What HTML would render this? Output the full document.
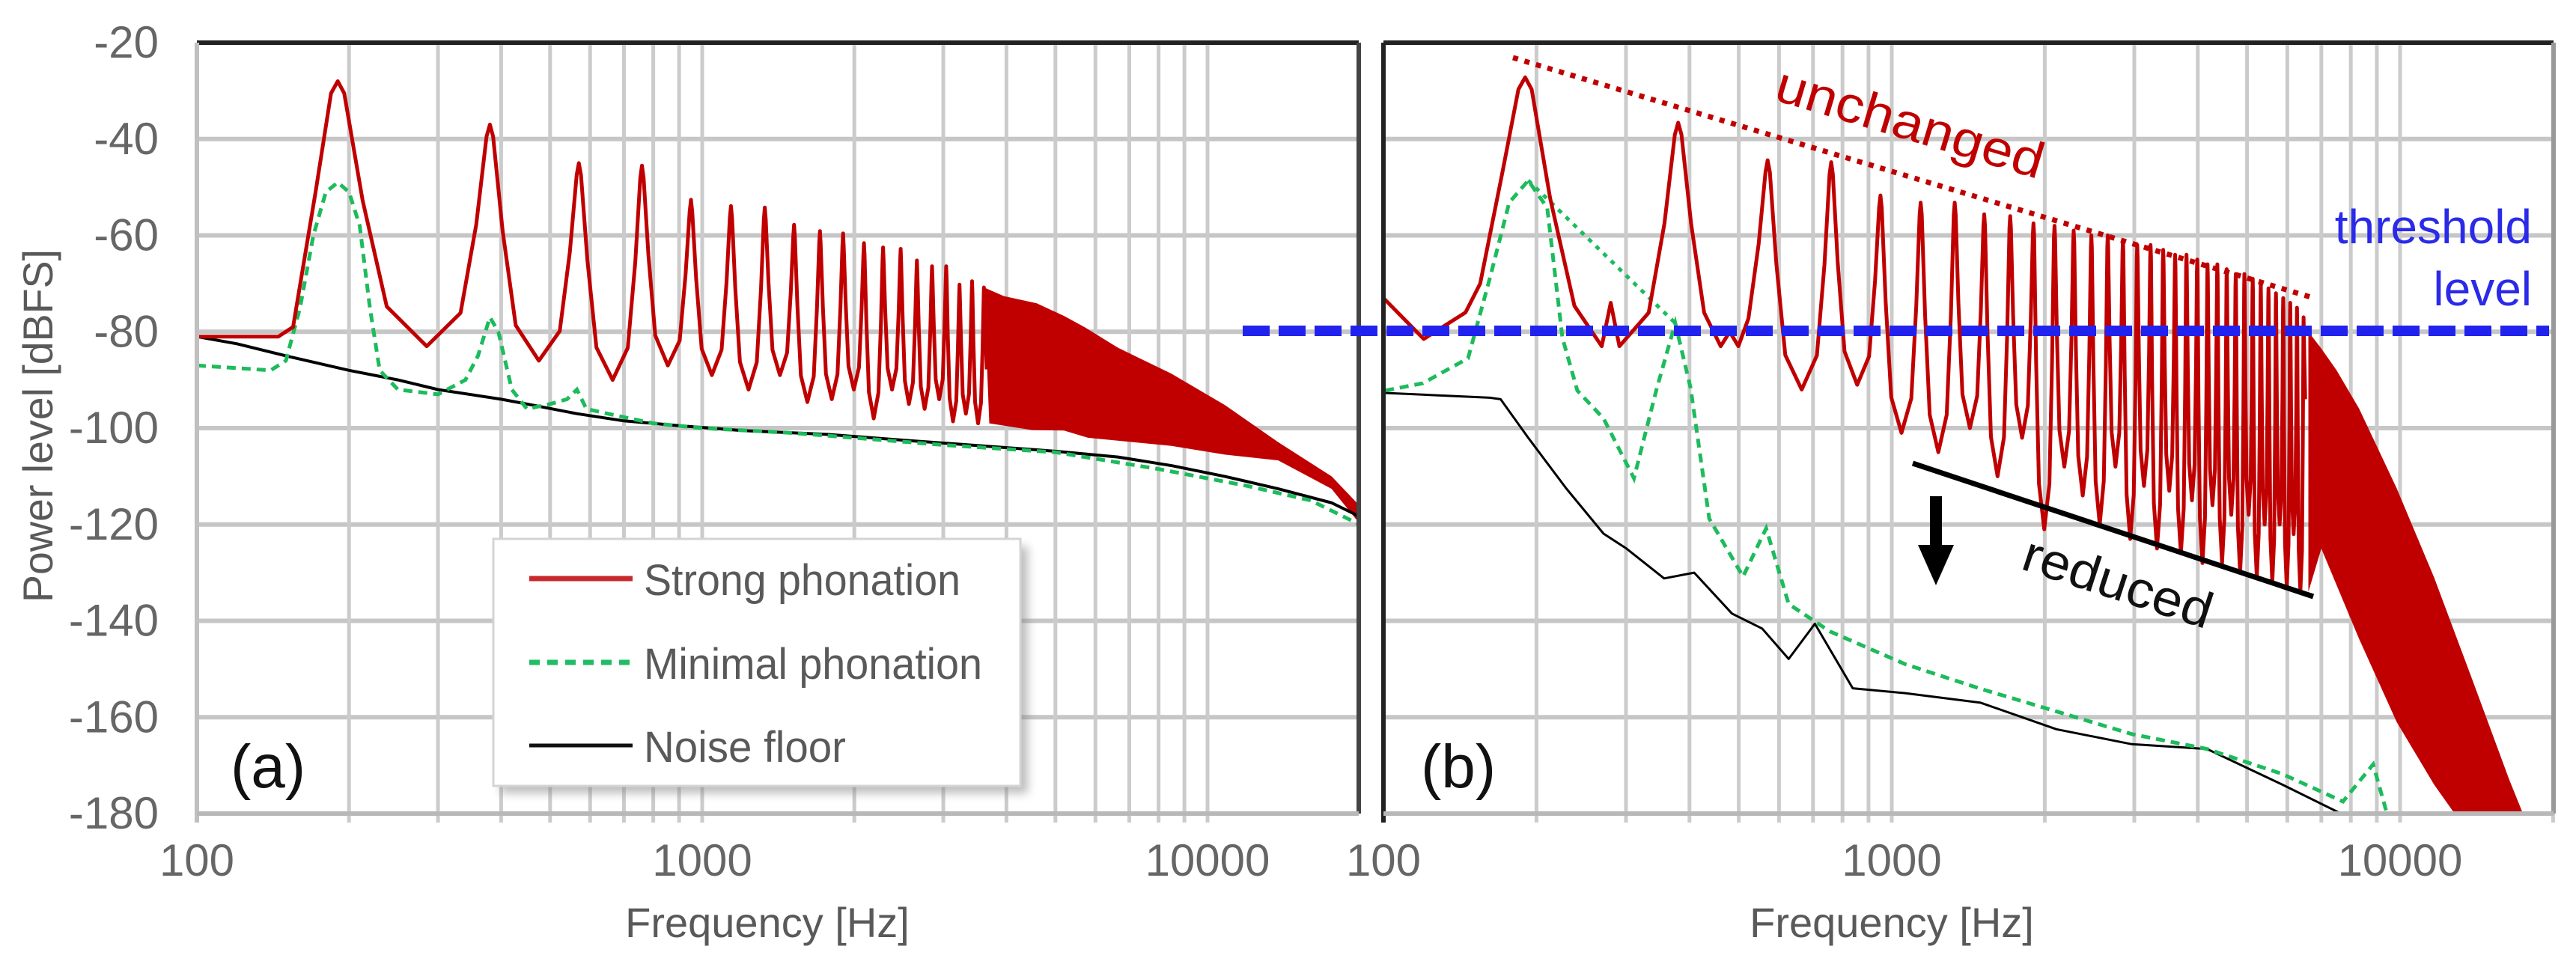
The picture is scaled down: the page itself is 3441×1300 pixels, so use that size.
<!DOCTYPE html>
<html><head><meta charset="utf-8"><style>
html,body{margin:0;padding:0;background:#fff;}
svg{display:block;font-family:"Liberation Sans",Arial,sans-serif;}
</style></head><body>
<svg id="chart" width="3441" height="1300" viewBox="0 0 3441 1300" xmlns="http://www.w3.org/2000/svg">
<defs>
<clipPath id="clipA"><rect x="263" y="57" width="1552" height="1030"/></clipPath>
<clipPath id="clipB"><rect x="1848" y="57" width="1563" height="1030"/></clipPath>
<filter id="shadow" x="-10%" y="-10%" width="130%" height="130%"><feGaussianBlur stdDeviation="6"/></filter>
</defs>
<g id="gridA"></g>
<g id="gridB"></g>
<g id="seriesA" clip-path="url(#clipA)"></g>
<g id="seriesB" clip-path="url(#clipB)"></g>
<g id="frames"></g>
<g id="labels"></g>

<text transform="translate(70,569) rotate(-90)" text-anchor="middle" font-size="56" fill="#595959" textLength="472" lengthAdjust="spacingAndGlyphs">Power level [dBFS]</text>
<text x="1025" y="1252" text-anchor="middle" font-size="56" fill="#595959">Frequency [Hz]</text>
<text x="2527" y="1252" text-anchor="middle" font-size="56" fill="#595959">Frequency [Hz]</text>

<line x1="1660" y1="442" x2="3405" y2="442" stroke="#2222ee" stroke-width="14" stroke-dasharray="36 12"/>
<text x="3382" y="325" text-anchor="end" font-size="64" fill="#2a2ae8">threshold</text>
<text x="3382" y="408" text-anchor="end" font-size="64" fill="#2a2ae8">level</text>

<line x1="2021" y1="77" x2="3090" y2="398" stroke="#c00000" stroke-width="7" stroke-dasharray="7 9"/>
<text transform="translate(2545,186) rotate(16.7)" text-anchor="middle" font-size="68" fill="#c00000" textLength="370" lengthAdjust="spacingAndGlyphs">unchanged</text>

<line x1="2555" y1="619" x2="3090" y2="797" stroke="#000" stroke-width="7"/>
<text transform="translate(2822,800) rotate(18)" text-anchor="middle" font-size="68" fill="#111" textLength="262" lengthAdjust="spacingAndGlyphs">reduced</text>
<g>
<rect x="2578" y="663" width="16" height="70" fill="#000"/>
<polygon points="2562,728 2610,728 2586,782" fill="#000"/>
</g>

<text x="308" y="1052" font-size="82" fill="#111">(a)</text>
<text x="1898" y="1052" font-size="82" fill="#111">(b)</text>

<g>
<rect x="669" y="730" width="704" height="330" fill="#888" opacity="0.55" filter="url(#shadow)"/>
<rect x="659" y="720" width="704" height="330" fill="#fff" stroke="#d4d4d4" stroke-width="3"/>
<g>
<line x1="707" y1="773" x2="845" y2="773" stroke="#c8282c" stroke-width="7"/>
<text x="860" y="795" font-size="58" fill="#595959" textLength="423" lengthAdjust="spacingAndGlyphs">Strong phonation</text>
</g>
<g>
<line x1="707" y1="885" x2="845" y2="885" stroke="#22bb66" stroke-width="7" stroke-dasharray="14 10"/>
<text x="860" y="907" font-size="58" fill="#595959" textLength="452" lengthAdjust="spacingAndGlyphs">Minimal phonation</text>
</g>
<g>
<line x1="707" y1="996" x2="845" y2="996" stroke="#111" stroke-width="5"/>
<text x="860" y="1018" font-size="58" fill="#595959" textLength="270" lengthAdjust="spacingAndGlyphs">Noise floor</text>
</g>
</g>
</svg>
<script>
// ---------------- data ----------------
const f0 = 190;
const yTicks = [-20,-40,-60,-80,-100,-120,-140,-160,-180];
const xTickLabels = [100,1000,10000];
const gridFreqs = [100,200,300,400,500,600,700,800,900,1000,2000,3000,4000,5000,6000,7000,8000,9000,10000,20000];

// Panel (a) strong phonation
const aLowFreq = [100,145,155];
const aLowDb = [-81,-81,-79];
const aPeaks = [-28,-37,-45,-45.5,-52.6,-53.9,-54.2,-57.8,-59.1,-59.6,-61.6,-62.5,-62.8,-65.2,-66.4,-66.4,-70.2,-69.5,-70.8];
const aTroughs = [-83,-86,-90,-87,-89,-92,-89,-94.6,-94,-92,-98,-92,-95,-96,-94,-98.6,-97,-99];
const aBandTopFreq = [3610,3954,4595,5197,5725,6646,8485,10820,13800,17600,19700,20000];
const aBandTopDb = [-70.8,-72.6,-74.1,-76.7,-79.1,-83.3,-88.7,-95.2,-102.9,-110,-115.4,-116];
const aBandBotFreq = [3700,4500,5200,5800,8485,10820,13800,17600,19700,20000];
const aBandBotDb = [-99,-100.4,-100.5,-102,-103.7,-105.5,-106.7,-112.6,-119,-119];
// Panel (a) minimal phonation
const aMinFreq = [100,140,150,160,170,180,190,200,210,220,230,250,300,340,360,380,395,420,450,500,540,565,590,650,800,1000,1500,2000,3000,5000,8000,12000,16000,20000];
const aMinDb = [-87,-88,-86,-75,-60,-51,-49,-51,-58,-75,-88,-92,-93,-90,-85,-77,-80,-92,-96,-95,-94,-92,-96,-97,-99,-100,-101,-102,-103.5,-105,-108.5,-112,-115,-120];
// Panel (a) noise floor
const aNoiseFreq = [100,120,150,200,250,300,400,450,565,700,900,1200,1770,2500,3500,5000,6650,8500,10800,13800,17600,19700,20000];
const aNoiseDb = [-81,-82.5,-85,-88,-90,-92,-94,-95,-97,-98.5,-99.5,-100.5,-101.3,-102.5,-103.6,-104.8,-106,-107.8,-110,-112.6,-115.5,-118,-119];

// Panel (b) strong phonation
const bLowFreq = [100,120,145,155];
const bLowDb = [-73,-81.5,-76,-70];
const bPeaks = [-27.2,-36.6,-44.4,-44.8,-51.7,-53.2,-53.2,-55.6,-56,-57.5,-58,-59,-60,-60,-61,-62,-62,-63,-64,-64,-65,-66,-66,-67,-68,-68,-69,-70,-71,-72,-73,-74,-75,-77];
const bTroughs = [-83,-83,-92,-91,-101,-105,-100,-110,-102,-121,-108,-114,-120,-108,-123,-112,-125,-113,-126,-115,-128,-116,-128,-118,-130,-118,-131,-120,-132,-120,-133,-122,-134];
const bBumpFreq = [280,480];
const bBumpDb = [-74,-80];
const bBandTopFreq = [6600,6990,7500,8300,9850,11670,13850,16400,17600];
const bBandTopDb = [-80,-83.4,-88,-95.9,-112.5,-131,-152,-173,-181];
const bBandBotFreq = [6600,7000,8300,9850,11670,13000];
const bBandBotDb = [-134,-125,-143.7,-161,-174,-181];
// Panel (b) minimal phonation
const bMinFreq = [100.7,119.5,146.7,162,176.8,192.7,210,225,240.7,271,311,345,375,402,437.5,510,566,627,756,1063,1496,2108,2967,4170,5870,7720,8850,9480];
const bMinDb = [-92.2,-90.7,-85.5,-68.8,-53.2,-48.6,-54.3,-81.3,-92.2,-98,-110.4,-91.7,-78.2,-91.7,-118.8,-130.8,-120.8,-136.5,-142.2,-149,-154.1,-158.8,-163.5,-166.6,-171.8,-177.5,-169.8,-181];
const bMinDiagFreq = [192.7,375];
const bMinDiagDb = [-48.6,-78.2];
// Panel (b) noise floor
const bNoiseFreq = [100.7,162,170,192.7,228.8,271,300.6,356.6,408.6,485,556,627,706,838,1063,1496,2108,2967,4170,5870,7997];
const bNoiseDb = [-92.7,-93.7,-94,-102,-112.5,-121.9,-125,-131.2,-130,-138.5,-141.6,-147.9,-140.6,-154,-155,-157,-162.5,-165.6,-166.6,-174,-181];

// ---------------- scales ----------------
const NS = 'http://www.w3.org/2000/svg';
const panelA = {x0:263, dec:675, right:1815};
const panelB = {x0:1848, dec:679, right:3411};
const yTop = 57, yBot = 1087;
function yScale(db){ return yTop + (-20 - db) / 160 * (yBot - yTop); }
function xScale(p, f){ return p.x0 + p.dec * Math.log10(f / 100); }

function mk(tag, attrs, parent){
  const el = document.createElementNS(NS, tag);
  for (const k in attrs) el.setAttribute(k, attrs[k]);
  parent.appendChild(el);
  return el;
}
function ptsStr(p, fr, db){
  return fr.map((f,i)=>xScale(p,f).toFixed(1)+','+yScale(db[i]).toFixed(1)).join(' ');
}
function harmonicPath(lowF, lowD, peaks, troughs, bumpF, bumpD){
  const F = lowF.slice(), D = lowD.slice();
  for (let i = 0; i < peaks.length; i++){
    const n = i + 1, P = peaks[i];
    const Tl = i === 0 ? lowD[lowD.length-1] : troughs[i-1];
    const Tr = i < troughs.length ? troughs[i] : P - 20;
    const wl = i === 0 ? 0.8 : 1;
    if (i > 0){ F.push((n-0.25)*f0); D.push(Tl + (P-Tl)*0.15); }
    F.push((n-0.12*wl)*f0); D.push(Tl + (P-Tl)*0.55);
    F.push((n-0.03)*f0); D.push(P-2.5);
    F.push(n*f0); D.push(P);
    F.push((n+0.03)*f0); D.push(P-2.5);
    F.push((n+0.12)*f0); D.push(Tr + (P-Tr)*0.55);
    F.push((n+0.25)*f0); D.push(Tr + (P-Tr)*0.15);
    if (i < troughs.length){
      let inserted = false;
      if (bumpF){
        bumpF.forEach((bf,j)=>{
          if (bf > (n+0.25)*f0 && bf < (n+0.75)*f0){
            F.push(bf*0.96); D.push(Tr);
            F.push(bf); D.push(bumpD[j]);
            F.push(bf*1.04); D.push(Tr);
            inserted = true;
          }
        });
      }
      if (!inserted){ F.push((n+0.5)*f0); D.push(Tr); }
    }
  }
  return {F, D};
}

// ---------------- grids ----------------
function drawGrid(p, g, name){
  yTicks.forEach(v=>{
    const l = mk('line',{x1:p.x0,x2:p.right,y1:yScale(v),y2:yScale(v),stroke:'#c6c6c6','stroke-width':6}, g);
    
    
  });
  gridFreqs.forEach(f=>{
    const x = xScale(p,f);
    if (x > p.right + 1) return;
    const l = mk('line',{x1:x,x2:x,y1:yTop,y2:yBot+12,stroke:'#cbcbcb','stroke-width':5}, g);
    
    
  });
}
drawGrid(panelA, document.getElementById('gridA'), 'panel-a');
drawGrid(panelB, document.getElementById('gridB'), 'panel-b');

// ---------------- series ----------------
function drawPanel(p, g, strong, bandTF, bandTD, bandBF, bandBD, minF, minD, noiseF, noiseD, diagF, diagD, pfx){
  const band = mk('polygon',{points: ptsStr(p,bandTF,bandTD)+' '+ptsStr(p,bandBF.slice().reverse(),bandBD.slice().reverse()), fill:'#c00000'}, g);
  
  
  const noise = mk('polyline',{points: ptsStr(p,noiseF,noiseD), fill:'none', stroke:'#000','stroke-width':p===panelA?4:3,'stroke-linejoin':'round'}, g);
  
  
  const mn = mk('polyline',{points: ptsStr(p,minF,minD), fill:'none', stroke:'#1dbb5c','stroke-width':5,'stroke-dasharray':'12 8'}, g);
  
  
  if (diagF){
    const dg = mk('polyline',{points: ptsStr(p,diagF,diagD), fill:'none', stroke:'#1dbb5c','stroke-width':5,'stroke-dasharray':'6 8'}, g);
    
    
  }
  const st = mk('polyline',{points: ptsStr(p,strong.F,strong.D), fill:'none', stroke:'#c00000','stroke-width':5,'stroke-linejoin':'round'}, g);
  
  
}
const strongA = harmonicPath(aLowFreq, aLowDb, aPeaks, aTroughs, null, null);
const strongB = harmonicPath(bLowFreq, bLowDb, bPeaks, bTroughs, bBumpFreq, bBumpDb);
drawPanel(panelA, document.getElementById('seriesA'), strongA, aBandTopFreq, aBandTopDb, aBandBotFreq, aBandBotDb, aMinFreq, aMinDb, aNoiseFreq, aNoiseDb, null, null, 'panel-a');
drawPanel(panelB, document.getElementById('seriesB'), strongB, bBandTopFreq, bBandTopDb, bBandBotFreq, bBandBotDb, bMinFreq, bMinDb, bNoiseFreq, bNoiseDb, bMinDiagFreq, bMinDiagDb, 'panel-b');

// ---------------- frames ----------------
const fr = document.getElementById('frames');
function frame(p, leftCol, rightCol, name){
  const a = mk('line',{x1:p.x0,x2:p.right,y1:yTop,y2:yTop,stroke:'#222','stroke-width':6}, fr);
   
  const b = mk('line',{x1:p.right,x2:p.right,y1:yTop,y2:yBot,stroke:rightCol,'stroke-width':6}, fr);
   
  const c = mk('line',{x1:p.x0,x2:p.x0,y1:yTop,y2:yBot+12,stroke:leftCol,'stroke-width':6}, fr);
   
  const d = mk('line',{x1:p.x0,x2:p.right,y1:yBot,y2:yBot,stroke:'#b8b8b8','stroke-width':6}, fr);
   
}
frame(panelA, '#c0c0c0', '#444', 'panel-a');
frame(panelB, '#222', '#999', 'panel-b');

// ---------------- tick labels ----------------
const lab = document.getElementById('labels');
yTicks.forEach(v=>{
  const t = mk('text',{x:212,y:yScale(v)+20,'text-anchor':'end','font-size':60,fill:'#666'}, lab);
  t.textContent = String(v);
  
  
});
[panelA, panelB].forEach((p,pi)=>{
  xTickLabels.forEach(f=>{
    const t = mk('text',{x:xScale(p,f),y:1170,'text-anchor':'middle','font-size':60,fill:'#666'}, lab);
    t.textContent = String(f);
    
    
  });
});
</script>
</body></html>
